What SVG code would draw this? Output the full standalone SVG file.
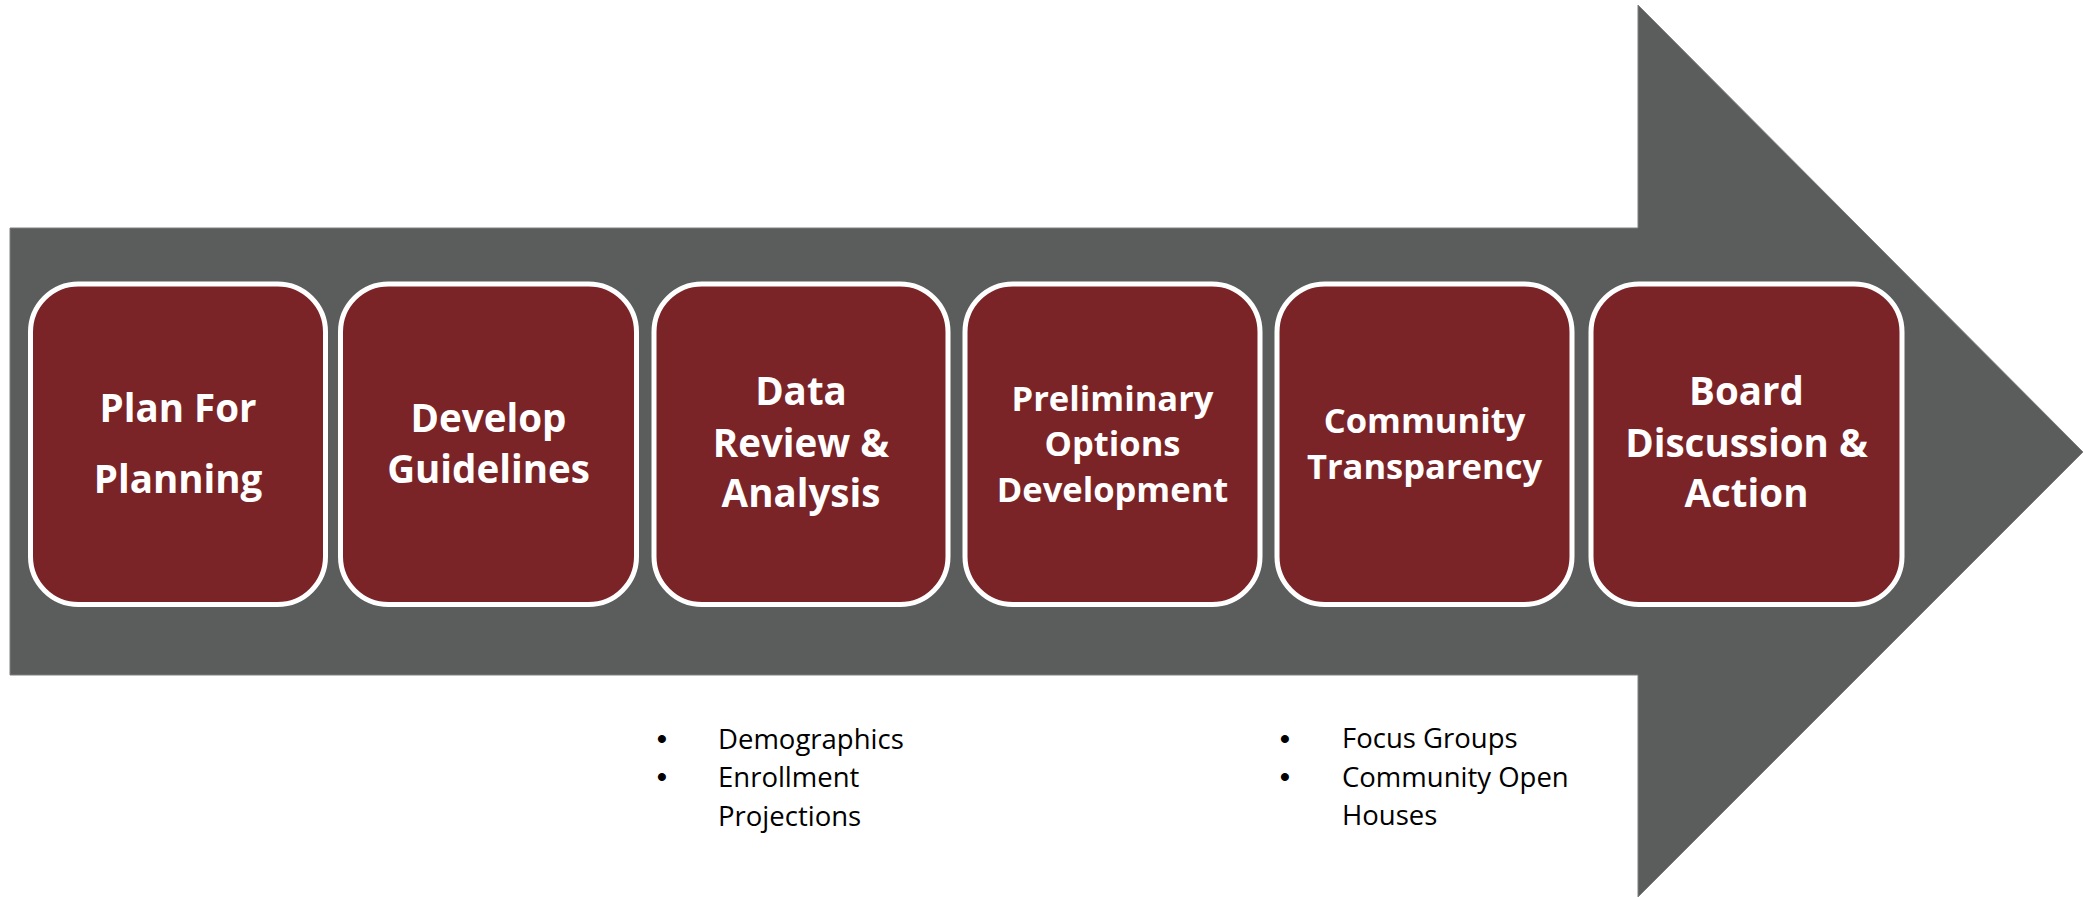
<svg xmlns="http://www.w3.org/2000/svg" width="2084" height="897" viewBox="0 0 2084 897">
<style>
.box{fill:#7B2428;stroke:#FFFFFF;stroke-width:5}
.t{font-family:"Open Sans",Lato,"Liberation Sans",sans-serif;font-weight:bold;fill:#FFFFFF;text-anchor:middle}
.l{font-size:38.5px}
.s{font-size:34.5px}
.b{font-family:"Open Sans",Lato,"Liberation Sans",sans-serif;font-size:27.5px;fill:#000000}
.d{font-family:"Liberation Sans",Arial,sans-serif;font-size:28px;font-weight:bold;fill:#000000;text-anchor:middle}
</style>
<rect width="2084" height="897" fill="#FFFFFF"/>
<g id="arrow">
<polygon points="10,228 1638,228 1638,5 2083,452 1638,897 1638,675 10,675" fill="#5B5D5C" stroke="#7F7F7F" stroke-width="1"/>
</g>
<g id="connectors"></g>
<g id="node1">
<rect class="box" x="30.5" y="284" width="295" height="320.5" rx="48" ry="48"/>
<text class="t l" x="178" y="422">Plan For</text>
<text class="t l" x="178" y="493">Planning</text>
</g>
<g id="node2">
<rect class="box" x="340.5" y="284" width="296" height="320.5" rx="48" ry="48"/>
<text class="t l" x="488.5" y="432">Develop</text>
<text class="t l" x="488.5" y="483">Guidelines</text>
</g>
<g id="node3">
<rect class="box" x="654" y="284" width="294" height="320.5" rx="48" ry="48"/>
<text class="t l" x="801" y="405">Data</text>
<text class="t l" x="801" y="457">Review &amp;</text>
<text class="t l" x="801" y="507">Analysis</text>
</g>
<g id="node4">
<rect class="box" x="965" y="284" width="295" height="320.5" rx="48" ry="48"/>
<text class="t s" x="1112.5" y="411">Preliminary</text>
<text class="t s" x="1112.5" y="456">Options</text>
<text class="t s" x="1112.5" y="502">Development</text>
</g>
<g id="node5">
<rect class="box" x="1277" y="284" width="295" height="320.5" rx="48" ry="48"/>
<text class="t s" x="1424.5" y="433">Community</text>
<text class="t s" x="1424.5" y="479">Transparency</text>
</g>
<g id="node6">
<rect class="box" x="1591" y="284" width="311" height="320.5" rx="48" ry="48"/>
<text class="t l" x="1746.5" y="405">Board</text>
<text class="t l" x="1746.5" y="457">Discussion &amp;</text>
<text class="t l" x="1746.5" y="507">Action</text>
</g>
<g id="notes1">
<text class="d" x="662" y="748">•</text>
<text class="b" x="718" y="749">Demographics</text>
<text class="d" x="662" y="786">•</text>
<text class="b" x="718" y="787">Enrollment</text>
<text class="b" x="718" y="826">Projections</text>
</g>
<g id="notes2">
<text class="d" x="1285" y="748">•</text>
<text class="b" x="1342" y="748">Focus Groups</text>
<text class="d" x="1285" y="786">•</text>
<text class="b" x="1342" y="787">Community Open</text>
<text class="b" x="1342" y="825">Houses</text>
</g>
</svg>
